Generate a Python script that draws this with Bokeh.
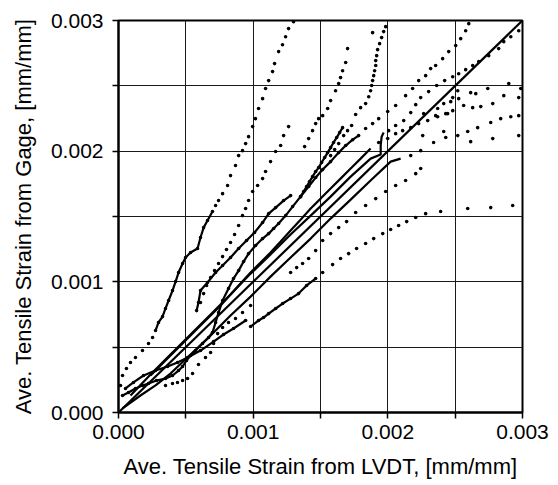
import numpy as np
from bokeh.plotting import figure
from bokeh.models import FixedTicker, Range1d, PrintfTickFormatter
from bokeh.embed import file_html
from bokeh.resources import INLINE

# ---- data (microstrain, converted to mm/mm below) ----
tick_vals = [0.0, 0.001, 0.002, 0.003]
minor_vals = [0.0005, 0.0015, 0.0025]

equal_x = [0, 3000]
equal_y = [0, 3000]

a_dense_x = [275, 297, 327, 349, 372, 401, 424, 446, 476, 498, 535, 587, 609, 632, 661, 698]
a_dense_y = [627, 689, 734, 796, 857, 933, 1002, 1071, 1140, 1186, 1224, 1255, 1339, 1415, 1469, 1538]
a_dots_x = [15, 30, 59, 89, 126, 178, 223, 253, 721, 743, 773, 810, 832, 869, 892, 921, 944, 966, 996,
            1017, 1040, 1070, 1092, 1115, 1144, 1159, 1189, 1218, 1241, 1263, 1300]
a_dots_y = [207, 283, 337, 383, 421, 474, 528, 574, 1584, 1622, 1675, 1737, 1813, 1890, 1966, 2004, 2058,
            2111, 2188, 2249, 2326, 2402, 2479, 2540, 2609, 2670, 2762, 2815, 2876, 2938, 2991]

b_x = [609, 632, 654, 684, 713, 743, 773, 802, 832, 862, 892, 921, 944, 966, 996, 1033, 1070, 1092, 1129,
       1167, 1204, 1226, 1263]
b_y = [842, 910, 972, 1033, 1086, 1140, 1193, 1247, 1301, 1362, 1431, 1507, 1561, 1622, 1691, 1737, 1790,
       1844, 1920, 1997, 2043, 2119, 2188]

c_x = [1382, 1412, 1441, 1464, 1486, 1516, 1553, 1575, 1612, 1635, 1649, 1664, 1687, 1701]
c_y = [2035, 2096, 2157, 2211, 2249, 2272, 2326, 2387, 2463, 2517, 2563, 2616, 2678, 2785]

k_x = [580, 594, 609, 661, 721, 773, 832, 892, 951, 1010, 1070, 1115, 1167, 1226, 1278]
k_y = [780, 842, 933, 995, 1071, 1125, 1186, 1255, 1316, 1377, 1454, 1522, 1568, 1622, 1660]

d_x = [1352, 1375, 1397, 1419, 1441, 1464, 1486, 1508, 1531, 1553, 1575, 1597, 1620, 1642, 1664]
d_y = [1652, 1691, 1729, 1767, 1805, 1844, 1874, 1913, 1951, 1989, 2027, 2066, 2104, 2142, 2180]

e_x = [1575, 1605, 1635, 1672, 1701, 1731, 1761, 1798, 1835, 1858, 1872, 1880, 1887, 1895, 1902, 1910,
       1910, 1917, 1924, 1939, 1954, 1969, 1984, 1887]
e_y = [1966, 2012, 2058, 2119, 2157, 2196, 2280, 2333, 2364, 2417, 2463, 2502, 2540, 2578, 2616, 2655,
       2693, 2731, 2777, 2823, 2869, 2915, 2953, 2907]

f_dense_x = [30, 74, 126, 178, 223, 282, 349, 401, 446, 476, 505, 535, 572, 624, 669, 698, 721, 743, 773,
             817, 854, 892, 929, 966, 1018, 1070, 1115, 1152, 1189, 1241, 1293, 1352, 1412, 1464, 1516,
             1575, 1635, 1687, 1739, 1783]
f_dense_y = [130, 153, 184, 207, 222, 245, 260, 283, 321, 352, 398, 436, 474, 528, 574, 612, 689, 765, 857,
             949, 1025, 1086, 1155, 1216, 1278, 1331, 1369, 1408, 1446, 1507, 1576, 1652, 1729, 1798, 1859,
             1920, 1989, 2043, 2088, 2119]
f_dots_x = [1835, 1887, 1932, 1999, 2058, 2132, 2184, 2229, 2281, 2318, 2355, 2407, 2452, 2504, 2541, 2578, 2601]
f_dots_y = [2173, 2211, 2249, 2303, 2349, 2425, 2479, 2540, 2578, 2632, 2655, 2708, 2762, 2808, 2861, 2922, 2976]

g_dense_x = [238, 312, 386, 461, 535, 609, 684, 758, 832, 906, 981, 1055, 1129, 1204, 1278, 1352, 1427,
             1501, 1575, 1649, 1724, 1798, 1872]
g_dense_y = [283, 360, 436, 513, 589, 666, 742, 819, 903, 987, 1071, 1148, 1224, 1308, 1392, 1476, 1561,
             1637, 1714, 1790, 1867, 1943, 2020]
g_dots_x = [1932, 1999, 2058, 2110, 2170, 2229, 2296, 2370, 2444, 2482]
g_dots_y = [2066, 2096, 2134, 2157, 2180, 2211, 2234, 2264, 2287, 2310]

h_dense_x = [89, 238, 386, 535, 684, 832, 981, 1129, 1278, 1427, 1575, 1724, 1872, 1947, 1947, 1954, 1969]
h_dense_y = [130, 291, 444, 597, 750, 903, 1063, 1209, 1362, 1507, 1652, 1805, 1943, 1974, 2043, 2111, 2142]
h_dots_x = [2006, 2058, 2118, 2170, 2207, 2244, 2303, 2363, 2422, 2482, 2526, 2578, 2630, 2675, 2749,
            2823, 2861, 2913, 2972]
h_dots_y = [2157, 2196, 2234, 2295, 2356, 2410, 2456, 2502, 2540, 2570, 2593, 2624, 2655, 2685, 2731,
            2785, 2838, 2876, 2922]

l_dense_x = [30, 163, 275, 386, 535, 684, 832, 981, 1129, 1278, 1427, 1575, 1724, 1872, 2021, 2095]
l_dense_y = [31, 130, 207, 298, 444, 589, 742, 887, 1040, 1186, 1331, 1484, 1629, 1775, 1920, 1943]
l_dots_x = [2170, 2244, 2340, 2430, 2519, 2593, 2667, 2764, 2838, 2913, 2972]
l_dots_y = [1966, 2004, 2066, 2104, 2119, 2150, 2180, 2219, 2249, 2264, 2272]

m1_x = [1278, 1323, 1367, 1412, 1464, 1516, 1575, 1635, 1694, 1761, 1835, 1910, 1984, 2058, 2132, 2207, 2244]
m1_y = [1071, 1109, 1140, 1178, 1239, 1316, 1369, 1415, 1461, 1530, 1584, 1637, 1691, 1737, 1775, 1828, 1867]

m2_dense_x = [981, 1040, 1077, 1115, 1167, 1219, 1278, 1337, 1397, 1464]
m2_dense_y = [658, 704, 727, 757, 796, 834, 872, 910, 972, 1025]
m2_dots_x = [1516, 1590, 1649, 1709, 1768, 1835, 1895, 1962, 2021, 2080, 2140, 2207, 2281, 2392, 2593, 2764, 2927]
m2_dots_y = [1071, 1132, 1178, 1216, 1255, 1293, 1331, 1369, 1400, 1431, 1461, 1492, 1522, 1538, 1561, 1568, 1584]

n_x = [52, 111, 186, 275, 364, 438, 513, 609, 706, 780, 854, 944]
n_y = [184, 230, 283, 321, 352, 383, 421, 474, 543, 597, 643, 704]

p_x = [349, 401, 438, 476, 513, 550, 594, 646, 684, 706, 736, 773, 817, 869, 921, 981]
p_y = [207, 222, 230, 245, 260, 298, 367, 421, 459, 528, 604, 650, 689, 719, 765, 819]

s_x = [2266, 2355, 2370, 2415, 2430, 2467, 2482, 2526, 2519, 2563, 2615, 2630, 2653, 2690, 2742, 2779,
       2861, 2898, 2972, 2987, 2259, 2415, 2615, 2779, 2972]
s_y = [2287, 2272, 2326, 2364, 2287, 2379, 2410, 2402, 2463, 2349, 2448, 2333, 2440, 2341, 2479, 2364,
       2425, 2517, 2410, 2479, 2119, 2150, 2073, 2096, 2119]

UE = 1e-6  # microstrain -> mm/mm

line_series = [(a_dense_x, a_dense_y), (k_x, k_y), (d_x, d_y), (f_dense_x, f_dense_y),
               (g_dense_x, g_dense_y), (h_dense_x, h_dense_y), (l_dense_x, l_dense_y),
               (m2_dense_x, m2_dense_y), (n_x, n_y)]
dot_series = [(a_dense_x, a_dense_y), (a_dots_x, a_dots_y), (b_x, b_y), (c_x, c_y), (k_x, k_y),
              (d_x, d_y), (e_x, e_y), (f_dense_x, f_dense_y), (f_dots_x, f_dots_y), (g_dots_x, g_dots_y),
              (h_dots_x, h_dots_y), (l_dots_x, l_dots_y), (m1_x, m1_y), (m2_dense_x, m2_dense_y),
              (m2_dots_x, m2_dots_y), (n_x, n_y), (p_x, p_y), (s_x, s_y)]

p = figure(width=558, height=485, x_range=Range1d(0, 0.003), y_range=Range1d(0, 0.003),
           output_backend="svg", toolbar_location=None,
           min_border_left=118, min_border_right=36, min_border_top=20, min_border_bottom=73)
p.background_fill_color = "white"
p.border_fill_color = "white"
p.outline_line_color = "black"
p.outline_line_width = 2

FONT = "Liberation Sans"
for ax in (p.xaxis, p.yaxis):
    ax.ticker = FixedTicker(ticks=tick_vals, minor_ticks=minor_vals)
    ax.formatter = PrintfTickFormatter(format="%.3f")
    ax.axis_line_width = 2
    ax.axis_line_color = "black"
    ax.major_tick_in = 0
    ax.major_tick_out = 6
    ax.minor_tick_in = 0
    ax.minor_tick_out = 6
    ax.major_tick_line_width = 1.5
    ax.minor_tick_line_width = 1.5
    ax.major_tick_line_color = "black"
    ax.minor_tick_line_color = "black"
    ax.major_label_text_font = FONT
    ax.major_label_text_font_size = "21px"
    ax.major_label_text_color = "black"
    ax.axis_label_text_font = FONT
    ax.axis_label_text_font_size = "22px"
    ax.axis_label_text_font_style = "normal"
    ax.axis_label_text_color = "black"

p.xaxis.axis_label = "Ave. Tensile Strain from LVDT, [mm/mm]"
p.yaxis.axis_label = "Ave. Tensile Strain from Gage, [mm/mm]"
p.xaxis.major_label_standoff = 6
p.yaxis.major_label_standoff = 9
p.xaxis.axis_label_standoff = 12
p.yaxis.axis_label_standoff = 12

for g in (p.xgrid, p.ygrid):
    g.grid_line_color = "#1a1a1a"
    g.grid_line_width = 1
    g.minor_grid_line_color = "#1a1a1a"
    g.minor_grid_line_width = 1

# reference line of equality
p.line(np.array(equal_x) * UE, np.array(equal_y) * UE, line_color="black", line_width=2.2)

for xs, ys in line_series:
    p.line(np.array(xs) * UE, np.array(ys) * UE, line_color="black", line_width=2.2)

for xs, ys in dot_series:
    p.scatter(np.array(xs) * UE, np.array(ys) * UE, marker="circle", size=3.6,
              fill_color="black", line_color=None)

open("out.html", "w").write(file_html(p, INLINE))
